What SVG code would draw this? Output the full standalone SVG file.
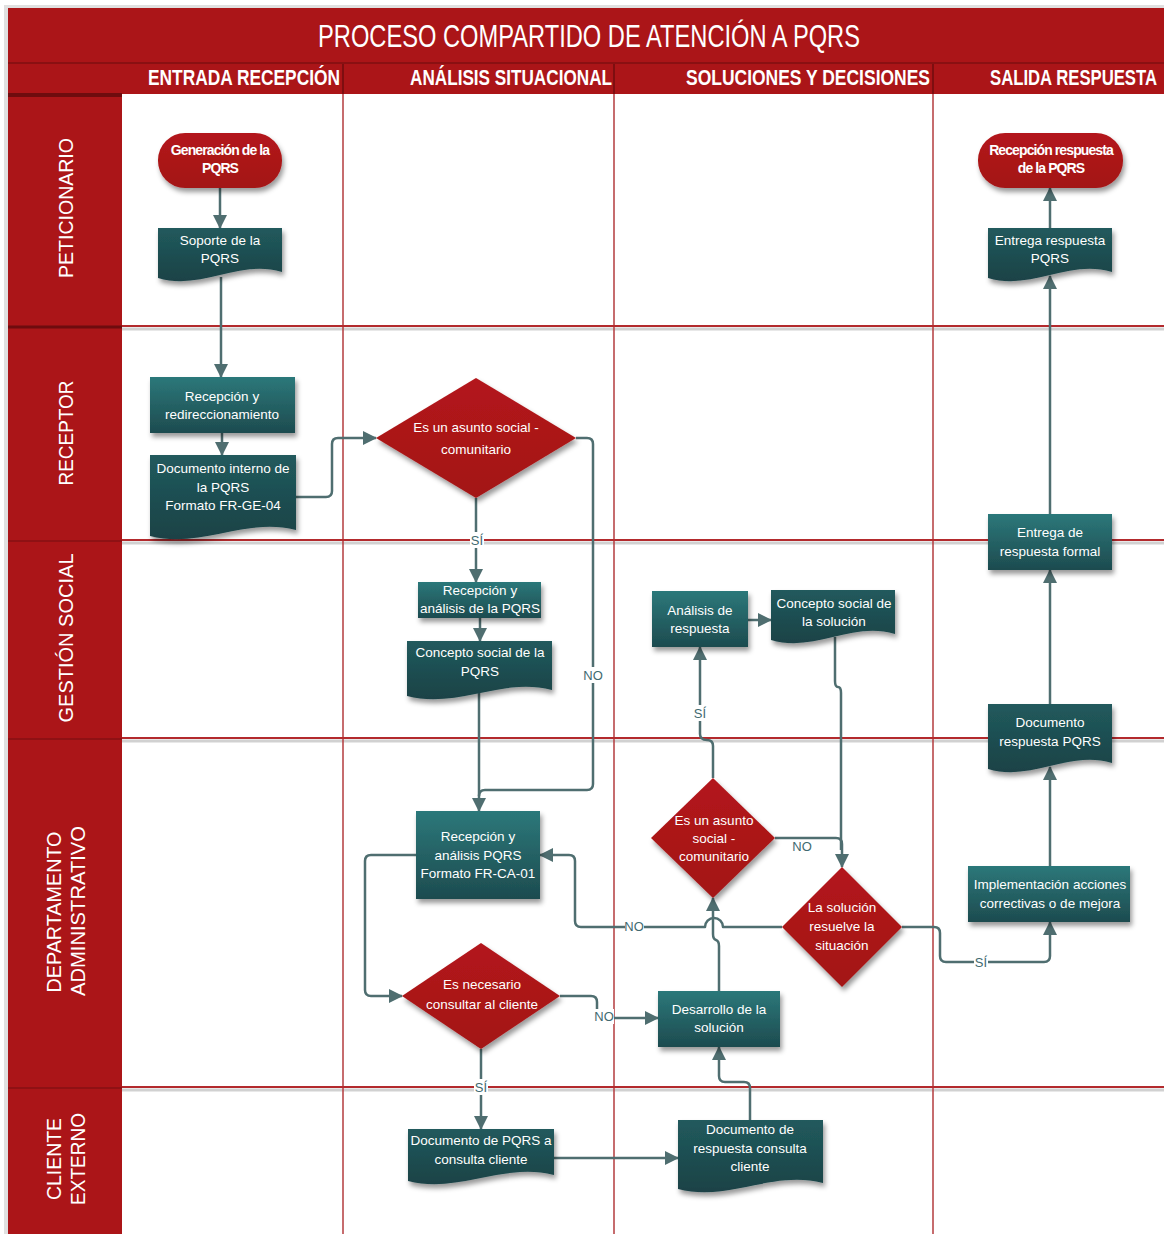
<svg xmlns="http://www.w3.org/2000/svg" width="1164" height="1234" viewBox="0 0 1164 1234">
<defs>
<linearGradient id="gBox" x1="0" y1="0" x2="0" y2="1"><stop offset="0" stop-color="#2c787a"/><stop offset="1" stop-color="#1d4b4f"/></linearGradient>
<linearGradient id="gDoc" x1="0" y1="0" x2="0" y2="1"><stop offset="0" stop-color="#215a5d"/><stop offset="1" stop-color="#1a4246"/></linearGradient>
<linearGradient id="gRed" x1="0" y1="0" x2="0" y2="1"><stop offset="0" stop-color="#b3181b"/><stop offset="1" stop-color="#a31316"/></linearGradient>
<filter id="sh" x="-20%" y="-20%" width="150%" height="160%"><feDropShadow dx="2" dy="4" stdDeviation="2.5" flood-color="#000" flood-opacity="0.4"/></filter>
<marker id="arr" markerUnits="userSpaceOnUse" markerWidth="14" markerHeight="14" refX="13" refY="7" orient="auto"><path d="M0,0 L14,7 L0,14 Z" fill="#4f6e70"/></marker>
<style>
.hd{font-family:"Liberation Sans",Arial,sans-serif;fill:#fff;}
.lane{font-family:"Liberation Sans",Arial,sans-serif;fill:#fff;font-size:20px;}
.t{font-family:"Liberation Sans",Arial,sans-serif;fill:#fff;font-size:13.5px;text-anchor:middle;}
.tb{font-family:"Liberation Sans",Arial,sans-serif;fill:#fff;font-size:14px;font-weight:bold;text-anchor:middle;letter-spacing:-0.9px;}
.box{fill:url(#gBox);filter:url(#sh);}
.doc{fill:url(#gDoc);filter:url(#sh);}
.red{fill:url(#gRed);filter:url(#sh);}
.c{fill:none;stroke:#4f6e70;stroke-width:2.5;stroke-linejoin:round;}
.ca{fill:none;stroke:#4f6e70;stroke-width:2.5;stroke-linejoin:round;marker-end:url(#arr);}
.lb{font-family:"Liberation Sans",Arial,sans-serif;fill:#3f6a70;font-size:13px;text-anchor:middle;}
.rowl{stroke:#b32a2d;stroke-width:2;}
.rows{stroke:#000;stroke-opacity:0.18;stroke-width:3;}
.coll{stroke:#b33b3e;stroke-width:1.5;}
</style>
</defs>
<rect width="1164" height="1234" fill="#fff"/>
<rect x="4" y="5" width="1164" height="1234" fill="#000" fill-opacity="0.12"/>
<rect x="8" y="8" width="1156" height="1226" fill="#fff"/>
<g id="header">
<rect x="8" y="8" width="1156" height="86" fill="#ab1518"/>
<line x1="8" y1="63" x2="1164" y2="63" stroke="#8a1012" stroke-width="2"/>
<line x1="343" y1="64" x2="343" y2="94" stroke="#7e0e10" stroke-width="2"/>
<line x1="614" y1="64" x2="614" y2="94" stroke="#7e0e10" stroke-width="2"/>
<line x1="933" y1="64" x2="933" y2="94" stroke="#7e0e10" stroke-width="2"/>
<text class="hd" x="318" y="47" font-size="31" textLength="542" lengthAdjust="spacingAndGlyphs">PROCESO COMPARTIDO DE ATENCIÓN A PQRS</text>
<text class="hd" x="148" y="85" font-size="22" font-weight="bold" textLength="192" lengthAdjust="spacingAndGlyphs">ENTRADA RECEPCIÓN</text>
<text class="hd" x="410" y="85" font-size="22" font-weight="bold" textLength="202" lengthAdjust="spacingAndGlyphs">ANÁLISIS SITUACIONAL</text>
<text class="hd" x="686" y="85" font-size="22" font-weight="bold" textLength="244" lengthAdjust="spacingAndGlyphs">SOLUCIONES Y DECISIONES</text>
<text class="hd" transform="translate(990,85) scale(0.76,1)" font-size="22" font-weight="bold">SALIDA RESPUESTA</text>
</g>
<g id="lanes">
<rect x="8" y="93" width="114" height="1141" fill="#ab1518"/>
<line x1="8" y1="95" x2="122" y2="95" stroke="#6e0c0e" stroke-width="4"/>
<line x1="8" y1="327" x2="122" y2="327" stroke="#6e0c0e" stroke-width="3"/>
<line x1="8" y1="541" x2="122" y2="541" stroke="#861113" stroke-width="1.5"/>
<line x1="8" y1="739" x2="122" y2="739" stroke="#861113" stroke-width="1.5"/>
<line x1="8" y1="1088" x2="122" y2="1088" stroke="#861113" stroke-width="1.5"/>
<text class="lane" transform="translate(73,208) rotate(-90)" text-anchor="middle" textLength="140" lengthAdjust="spacingAndGlyphs">PETICIONARIO</text>
<text class="lane" transform="translate(73,433) rotate(-90)" text-anchor="middle" textLength="105" lengthAdjust="spacingAndGlyphs">RECEPTOR</text>
<text class="lane" transform="translate(73,638) rotate(-90)" text-anchor="middle" textLength="169" lengthAdjust="spacingAndGlyphs">GESTIÓN  SOCIAL</text>
<text class="lane" transform="translate(61,912) rotate(-90)" text-anchor="middle" textLength="161" lengthAdjust="spacingAndGlyphs">DEPARTAMENTO</text>
<text class="lane" transform="translate(85,911) rotate(-90)" text-anchor="middle" textLength="170" lengthAdjust="spacingAndGlyphs">ADMINISTRATIVO</text>
<text class="lane" transform="translate(61,1159) rotate(-90)" text-anchor="middle" textLength="82" lengthAdjust="spacingAndGlyphs">CLIENTE</text>
<text class="lane" transform="translate(85,1159) rotate(-90)" text-anchor="middle" textLength="92" lengthAdjust="spacingAndGlyphs">EXTERNO</text>
</g>
<g id="grid">
<line class="rows" x1="122" y1="329" x2="1164" y2="329"/>
<line class="rows" x1="122" y1="543" x2="1164" y2="543"/>
<line class="rows" x1="122" y1="741" x2="1164" y2="741"/>
<line class="rows" x1="122" y1="1090" x2="1164" y2="1090"/>
<line class="coll" x1="343" y1="94" x2="343" y2="1234"/>
<line class="coll" x1="614" y1="94" x2="614" y2="1234"/>
<line class="coll" x1="933" y1="94" x2="933" y2="1234"/>
<line class="rowl" x1="122" y1="326" x2="1164" y2="326"/>
<line class="rowl" x1="122" y1="540" x2="1164" y2="540"/>
<line class="rowl" x1="122" y1="738" x2="1164" y2="738"/>
<line class="rowl" x1="122" y1="1087" x2="1164" y2="1087"/>
</g>
<g id="connectors">
<path class="ca" d="M220,188 V228"/>
<path class="ca" d="M221,277 V377"/>
<path class="ca" d="M222,433 V455"/>
<path class="ca" d="M296,497 H326 Q332,497 332,491 V444 Q332,438 338,438 H376"/>
<path class="ca" d="M576,438 H587 Q593,438 593,444 V784 Q593,790 587,790 H485 Q479,790 479,796 V811"/>
<path class="ca" d="M476,498 V582"/>
<path class="ca" d="M480,618 V641"/>
<path class="c" d="M479,693 V796"/>
<path class="ca" d="M416,855 H371 Q365,855 365,861 V990 Q365,996 371,996 H402"/>
<path class="ca" d="M560,996 H591 Q597,996 597,1002 V1012 Q597,1018 603,1018 H658"/>
<path class="ca" d="M481,1049 V1129"/>
<path class="ca" d="M554,1158 H678"/>
<path class="ca" d="M750,1120 V1088 Q750,1082 744,1082 H725 Q719,1082 719,1076 V1047"/>
<path class="ca" d="M719,991 V946 Q719,941 716,940 Q713,939 713,934 V898"/>
<path class="ca" d="M782,927 H723 A9,9 0 0 0 705,927 H581 Q575,927 575,921 V861 Q575,855 569,855 H540"/>
<path class="ca" d="M713,778 V746 Q713,740 707,740 Q700,740 700,734 V647"/>
<path class="ca" d="M775,838 H836 Q842,838 842,844 V867"/>
<path class="c" d="M835,637 V681 Q835,687 838,687 Q841,687 841,693 V850"/>
<path class="ca" d="M748,620 H771"/>
<path class="ca" d="M902,927 H934 Q940,927 940,933 V956 Q940,962 946,962 H1044 Q1050,962 1050,956 V922"/>
<path class="ca" d="M1050,866 V767"/>
<path class="ca" d="M1050,704 V570"/>
<path class="ca" d="M1050,514 V276"/>
<path class="ca" d="M1050,228 V188"/>
<rect x="584" y="667" width="18" height="16" fill="#fff"/><text class="lb" x="593" y="680">NO</text>
<rect x="470" y="532" width="14" height="16" fill="#fff"/><text class="lb" x="477" y="545">SÍ</text>
<rect x="625" y="919" width="19" height="15" fill="#fff"/><text class="lb" x="634" y="931">NO</text>
<rect x="595" y="1009" width="19" height="15" fill="#fff"/><text class="lb" x="604" y="1021">NO</text>
<rect x="474" y="1079" width="14" height="16" fill="#fff"/><text class="lb" x="481" y="1092">SÍ</text>
<rect x="693" y="705" width="14" height="16" fill="#fff"/><text class="lb" x="700" y="718">SÍ</text>
<text class="lb" x="802" y="851">NO</text>
<rect x="974" y="955" width="14" height="15" fill="#fff"/><text class="lb" x="981" y="967">SÍ</text>
</g>
<g id="n1"><rect class="red" x="158" y="133" width="124" height="55" rx="27"/><text class="tb" x="220" y="155">Generación de la</text><text class="tb" x="220" y="173">PQRS</text></g>
<g id="n2"><path class="doc" d="M158,228 H282 V272 C238.6,259 201.4,291 158,278 Z"/><text class="t" x="220" y="245">Soporte de la</text><text class="t" x="220" y="263">PQRS</text></g>
<g id="n3"><rect class="box" x="150" y="377" width="145" height="56"/><text class="t" x="222" y="401">Recepción y</text><text class="t" x="222" y="419">redireccionamiento</text></g>
<g id="n4"><path class="doc" d="M150,455 H296 V530 C244.9,517 201.1,549 150,536 Z"/><text class="t" x="223" y="473">Documento interno de</text><text class="t" x="223" y="492">la PQRS</text><text class="t" x="223" y="510">Formato FR-GE-04</text></g>
<g id="n5"><polygon class="red" points="476,378 576,438 476,498 376,438"/><text class="t" x="476" y="432" font-size="14">Es un asunto social -</text><text class="t" x="476" y="454" font-size="14">comunitario</text></g>
<g id="n6"><rect class="box" x="418" y="582" width="123" height="36"/><text class="t" x="480" y="595">Recepción y</text><text class="t" x="480" y="613">análisis de la PQRS</text></g>
<g id="n7"><path class="doc" d="M407,641 H552 V690 C501.25,677 457.75,709 407,696 Z"/><text class="t" x="480" y="657">Concepto social de la</text><text class="t" x="480" y="676">PQRS</text></g>
<g id="n8"><rect class="box" x="416" y="811" width="124" height="88"/><text class="t" x="478" y="841">Recepción y</text><text class="t" x="478" y="860">análisis PQRS</text><text class="t" x="478" y="878">Formato FR-CA-01</text></g>
<g id="n9"><polygon class="red" points="481,943 560,996 481,1049 402,996"/><text class="t" x="482" y="989" font-size="14">Es necesario</text><text class="t" x="482" y="1009" font-size="14">consultar al cliente</text></g>
<g id="n10"><path class="doc" d="M408,1129 H554 V1175 C502.9,1162 459.1,1194 408,1181 Z"/><text class="t" x="481" y="1145">Documento de PQRS a</text><text class="t" x="481" y="1164">consulta cliente</text></g>
<g id="n11"><path class="doc" d="M678,1120 H823 V1183 C772.25,1170 728.75,1202 678,1189 Z"/><text class="t" x="750" y="1134">Documento de</text><text class="t" x="750" y="1153">respuesta consulta</text><text class="t" x="750" y="1171">cliente</text></g>
<g id="n12"><rect class="box" x="658" y="991" width="122" height="56"/><text class="t" x="719" y="1014">Desarrollo de la</text><text class="t" x="719" y="1032">solución</text></g>
<g id="n13"><polygon class="red" points="713,778 775,838 713,898 651,838"/><text class="t" x="714" y="825">Es un asunto</text><text class="t" x="714" y="843">social -</text><text class="t" x="714" y="861">comunitario</text></g>
<g id="n14"><polygon class="red" points="842,867 902,927 842,987 782,927"/><text class="t" x="842" y="912">La solución</text><text class="t" x="842" y="931">resuelve la</text><text class="t" x="842" y="950">situación</text></g>
<g id="n15"><rect class="box" x="652" y="591" width="96" height="56"/><text class="t" x="700" y="615">Análisis de</text><text class="t" x="700" y="633">respuesta</text></g>
<g id="n16"><path class="doc" d="M771,590 H895 V634 C851.6,621 814.4,653 771,640 Z"/><text class="t" x="834" y="608">Concepto social de</text><text class="t" x="834" y="626">la solución</text></g>
<g id="n17"><rect class="box" x="968" y="866" width="162" height="56"/><text class="t" x="1050" y="889">Implementación acciones</text><text class="t" x="1050" y="908">correctivas o de mejora</text></g>
<g id="n18"><path class="doc" d="M988,704 H1112 V763 C1068.6,750 1031.4,782 988,769 Z"/><text class="t" x="1050" y="727">Documento</text><text class="t" x="1050" y="746">respuesta PQRS</text></g>
<g id="n19"><rect class="box" x="988" y="514" width="124" height="56"/><text class="t" x="1050" y="537">Entrega de</text><text class="t" x="1050" y="556">respuesta formal</text></g>
<g id="n20"><path class="doc" d="M988,228 H1112 V272 C1068.6,259 1031.4,291 988,278 Z"/><text class="t" x="1050" y="245">Entrega respuesta</text><text class="t" x="1050" y="263">PQRS</text></g>
<g id="n21"><rect class="red" x="978" y="133" width="145" height="55" rx="27"/><text class="tb" x="1051" y="155">Recepción respuesta</text><text class="tb" x="1051" y="173">de la PQRS</text></g>
</svg>
